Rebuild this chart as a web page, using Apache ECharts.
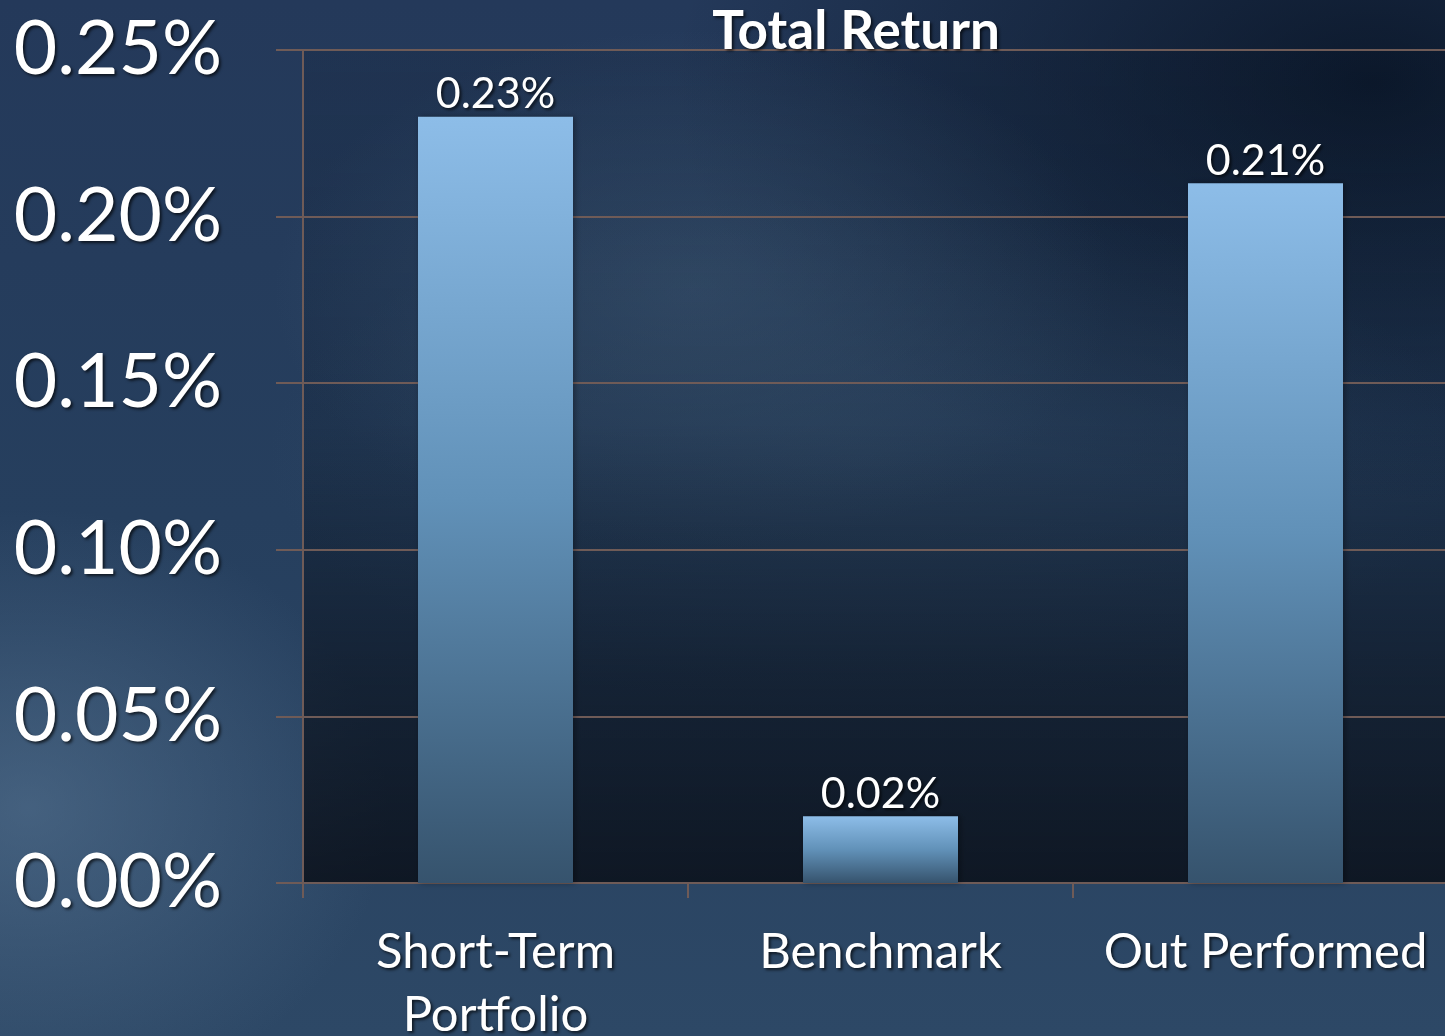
<!DOCTYPE html>
<html>
<head>
<meta charset="utf-8">
<style>
  html, body {
    margin: 0;
    padding: 0;
    width: 1445px;
    height: 1036px;
    overflow: hidden;
  }
  body {
    background:
      radial-gradient(ellipse 420px 260px at 48% 28%, rgba(80, 110, 140, 0.45), rgba(80, 110, 140, 0) 100%),
      radial-gradient(ellipse 360px 300px at 2% 78%, rgba(90, 120, 150, 0.55), rgba(90, 120, 150, 0) 100%),
      radial-gradient(ellipse 600px 260px at 60% 44%, rgba(70, 100, 130, 0.35), rgba(70, 100, 130, 0) 100%),
      radial-gradient(ellipse 700px 420px at 95% 8%, rgba(5, 15, 30, 0.75), rgba(5, 15, 30, 0) 100%),
      linear-gradient(180deg, #24395a 0%, #263f5e 50%, #2d4866 100%);
  }
  #chart {
    width: 1445px;
    height: 1036px;
  }
</style>
</head>
<body>
<div id="chart"></div>
<script src="https://cdn.jsdelivr.net/npm/echarts@6/dist/echarts.min.js"></script>
<script>
// chart data
var categories = ['Short-Term\nPortfolio', 'Benchmark', 'Out Performed']
var totalReturn = [0.23, 0.02, 0.21] // percent
var yTicks = { min: 0, max: 0.25, interval: 0.05 }

var lineColor = '#6f5b57'
var fontFamily = 'Lato, "Open Sans", sans-serif'
var shadow = {
  textShadowColor: 'rgba(0, 0, 0, 0.65)',
  textShadowBlur: 3,
  textShadowOffsetX: 2,
  textShadowOffsetY: 2
}

var chart = echarts.init(document.getElementById('chart'), null, { renderer: 'canvas' })

chart.setOption({
  backgroundColor: 'transparent',
  animation: false,
  title: {
    text: 'Total Return',
    left: 851,
    textAlign: 'center',
    top: 0,
    textStyle: Object.assign({
      color: '#ffffff',
      fontFamily: fontFamily,
      fontWeight: 'bold',
      fontSize: 53
    }, shadow)
  },
  grid: {
    left: 303,
    top: 50,
    width: 1155,
    height: 833,
    outerBoundsMode: 'none',
    containLabel: false,
    show: true,
    borderWidth: 0,
    backgroundColor: new echarts.graphic.LinearGradient(0, 0, 0, 1, [
      { offset: 0, color: 'rgba(8, 18, 32, 0.15)' },
      { offset: 0.45, color: 'rgba(8, 18, 32, 0.25)' },
      { offset: 0.75, color: 'rgba(8, 14, 24, 0.6)' },
      { offset: 1, color: 'rgba(8, 12, 20, 0.8)' }
    ])
  },
  xAxis: {
    type: 'category',
    data: categories,
    axisLine: { show: true, lineStyle: { color: lineColor, width: 2 } },
    axisTick: { show: true, length: 15, lineStyle: { color: lineColor, width: 2 } },
    axisLabel: Object.assign({
      interval: 0,
      color: '#ffffff',
      fontFamily: fontFamily,
      fontSize: 49,
      lineHeight: 63,
      margin: 38
    }, shadow)
  },
  yAxis: {
    type: 'value',
    min: yTicks.min,
    max: yTicks.max,
    interval: yTicks.interval,
    axisLine: { show: true, lineStyle: { color: lineColor, width: 2 } },
    axisTick: { show: true, length: 27, lineStyle: { color: lineColor, width: 2 } },
    splitLine: { show: true, lineStyle: { color: lineColor, width: 2 } },
    axisLabel: Object.assign({
      color: '#ffffff',
      fontFamily: fontFamily,
      fontSize: 75,
      margin: 81,
      formatter: function (v) { return v.toFixed(2) + '%' }
    }, shadow)
  },
  series: [
    {
      name: 'Total Return',
      type: 'bar',
      data: totalReturn,
      barWidth: 155,
      itemStyle: {
        color: new echarts.graphic.LinearGradient(0, 0, 0, 1, [
          { offset: 0, color: '#8dbde8' },
          { offset: 0.5, color: '#6191b8' },
          { offset: 1, color: '#36536d' }
        ]),
        shadowColor: 'rgba(0, 0, 0, 0.35)',
        shadowBlur: 6,
        shadowOffsetX: 2
      },
      label: Object.assign({
        show: true,
        position: 'top',
        distance: 1,
        color: '#ffffff',
        fontFamily: fontFamily,
        fontSize: 43,
        formatter: function (p) { return p.value.toFixed(2) + '%' }
      }, shadow)
    }
  ]
})
</script>
</body>
</html>
